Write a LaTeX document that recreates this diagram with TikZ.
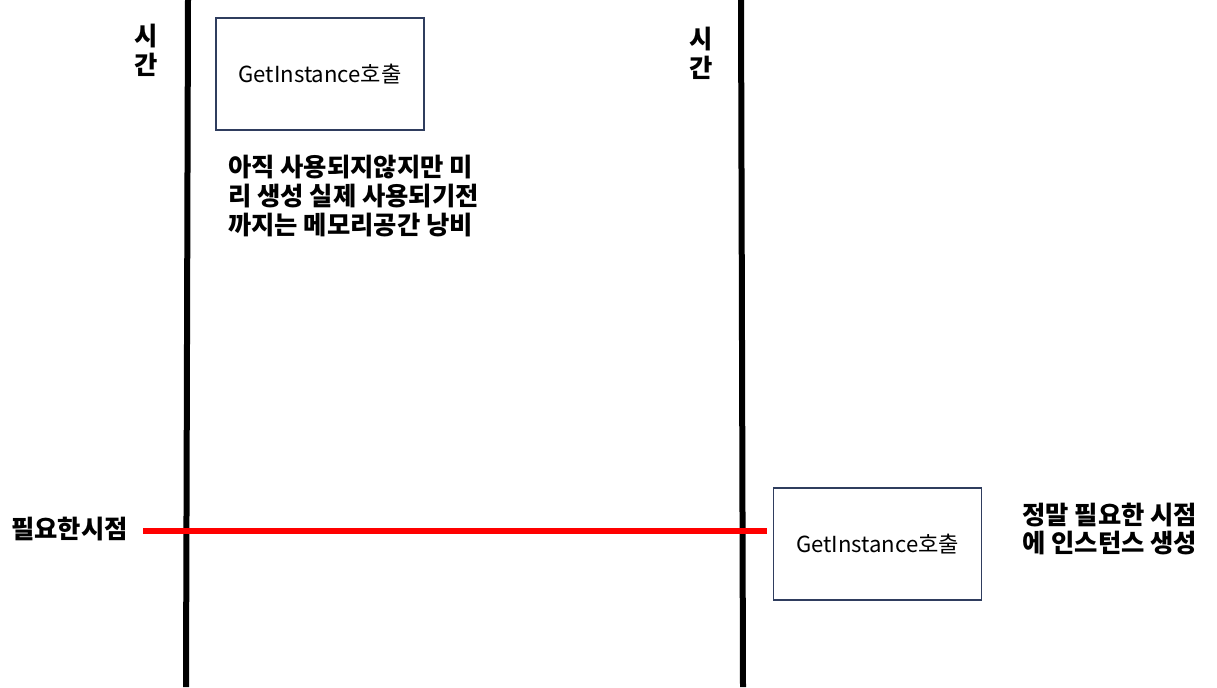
\documentclass[tikz,border=0pt]{standalone}
\usepackage{fontspec}
\newfontfamily\kr{Noto Sans CJK KR}
\usetikzlibrary{positioning}
\definecolor{boxLine}{HTML}{2f3d5e}
\definecolor{needRed}{HTML}{ff0000}
\begin{document}
\begin{tikzpicture}[x=0.75pt, y=-0.75pt, tline/.style={line width=4.5pt, black}, callbox/.style={draw=boxLine, line width=1.3pt, minimum width=156pt, minimum height=84pt, inner sep=0pt, font=\kr\fontsize{16.6}{19}\selectfont}, note/.style={font=\kr\bfseries\fontsize{19}{21.4}\selectfont, align=left, inner sep=0pt}]
\useasboundingbox (0,0) rectangle (1217,687);
% two time axes
\coordinate (eagerTop) at (188,0); \coordinate (eagerBot) at (186,687);
\coordinate (lazyTop) at (741,0); \coordinate (lazyBot) at (743,687);
\draw[tline] (eagerTop) -- (eagerBot);
\draw[tline] (lazyTop) -- (lazyBot);
\node[note, align=center, font=\kr\bfseries\fontsize{19}{22}\selectfont] (eagerTime) at (146,50) {시\\간};
\node[note, align=center, font=\kr\bfseries\fontsize{19}{22}\selectfont] (lazyTime) at (701,53) {시\\간};
% eager creation
\node[callbox] (eagerCall) at (320,74) {GetInstance호출};
\node[note, anchor=west] (eagerNote) at (228,196) {아직 사용되지않지만 미\\리 생성 실제 사용되기전\\까지는 메모리공간 낭비};
% point of need
\node[note, anchor=east] (needLbl) at (128,529) {필요한시점};
\coordinate (needL) at (143,531); \coordinate (needR) at (767,531);
\draw[line width=4.5pt, needRed] (needL) -- (needR);
% lazy creation
\node[callbox] (lazyCall) at (877.5,544) {GetInstance호출};
\node[note, anchor=west] (lazyNote) at (1022,529) {정말 필요한 시점\\에 인스턴스 생성};
\end{tikzpicture}
\end{document}
